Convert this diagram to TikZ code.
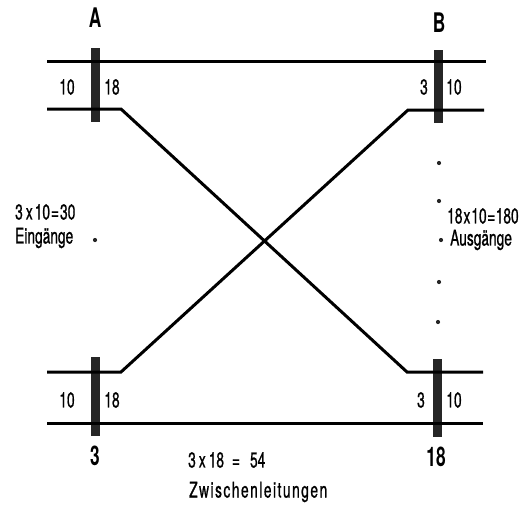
\documentclass[tikz,border=0pt]{standalone}
\usepackage{fontspec}
\setmainfont{TeX Gyre Heros}[FakeStretch=0.64]
\begin{document}
\begin{tikzpicture}[x=1pt,y=-1pt,
  wire/.style={line width=3pt,line join=miter},
  bar/.style={fill=black!85,draw=none,minimum width=9pt,inner sep=0pt},
  small/.style={font=\fontsize{21.5}{24}\selectfont\addfontfeature{FakeBold=0.8},inner sep=0pt},
  big/.style={font=\fontsize{27}{30}\selectfont\bfseries,inner sep=0pt},
  dotm/.style={circle,fill=black!85,minimum size=4.2pt,inner sep=0pt}]
\useasboundingbox (0,0) rectangle (522,504);
% bars
\node[bar,minimum height=74pt] (barA) at (95,85) {};
\node[bar,minimum height=73pt] (barB) at (438,86.5) {};
\node[bar,minimum height=79pt] (barC) at (95,396.5) {};
\node[bar,minimum height=78pt] (barD) at (437.5,398) {};
% coordinates
\coordinate (t1) at (47,61); \coordinate (t2) at (486,61);
\coordinate (a1) at (47,109); \coordinate (a2) at (121,109);
\coordinate (a3) at (407,372); \coordinate (a4) at (483,372);
\coordinate (b1) at (47,372); \coordinate (b2) at (121,372);
\coordinate (b3) at (408,110); \coordinate (b4) at (484,110);
\coordinate (u1) at (47,423); \coordinate (u2) at (483,423);
\draw[wire] (t1) -- (t2);
\draw[wire] (a1) -- (a2) -- (a3) -- (a4);
\draw[wire] (b1) -- (b2) -- (b3) -- (b4);
\draw[wire] (u1) -- (u2);
% labels
\node[big] (lA) at (95,18) {A};
\node[big] (lB) at (439,23) {B};
\node[big] (l3) at (95,456) {3};
\node[big] (l18) at (436,457) {18};
\node[small] (n10a) at (67,87) {10};
\node[small] (n18a) at (112,87) {18};
\node[small] (n3b) at (424,87) {3};
\node[small] (n10b) at (454,87) {10};
\node[small] (n10c) at (67,400) {10};
\node[small] (n18c) at (112,400) {18};
\node[small] (n3d) at (421,400) {3};
\node[small] (n10d) at (454,400) {10};
\node[small,anchor=west] (ein1) at (15,212) {3\hspace{3pt}x\hspace{2pt}10\hspace{1pt}=\hspace{1pt}30};
\node[small,anchor=west] (ein2) at (15,238) {Eingänge};
\node[small,anchor=west] (aus1) at (447,216) {18\hspace{1pt}x\hspace{1pt}10\hspace{0.5pt}=\hspace{0.5pt}180};
\node[small,anchor=west] (aus2) at (450,240) {Ausgänge};
\node[small,anchor=west] (z1) at (188,460) {3\hspace{3pt}x\hspace{3pt}18\hspace{8pt}=\hspace{10pt}54};
\node[small,anchor=west,font=\fontsize{21.5}{24}\selectfont\addfontfeature{LetterSpace=7,FakeBold=0.8}] (z2) at (189,492) {Zwischenleitungen};
% dots
\node[dotm] (d0) at (95,240) {};
\node[dotm] (d1) at (439,163) {};
\node[dotm] (d2) at (439,201) {};
\node[dotm] (d3) at (441,240) {};
\node[dotm] (d4) at (439,282) {};
\node[dotm] (d5) at (438,322) {};
\end{tikzpicture}
\end{document}
